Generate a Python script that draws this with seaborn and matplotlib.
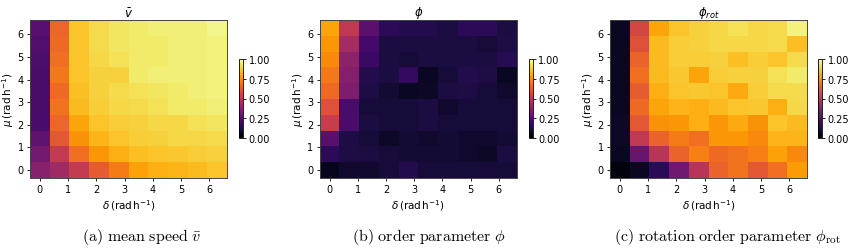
import numpy as np
import pandas as pd
import matplotlib
matplotlib.use("Agg")
import matplotlib.pyplot as plt
import seaborn as sns

# ----------------------------------------------------------
# Data (rows: mu from 2*pi at top down to 0, columns: delta 0 .. 2*pi)
# ----------------------------------------------------------

delta = np.linspace(0, 2 * np.pi, 10)
mu = np.linspace(0, 2 * np.pi, 10)[::-1]

mean_speed = [
    [0.25, 0.66, 0.86, 0.91, 0.93, 0.94, 0.95, 0.95, 0.95, 0.97],
    [0.24, 0.67, 0.86, 0.91, 0.93, 0.94, 0.94, 0.95, 0.95, 0.96],
    [0.23, 0.68, 0.86, 0.90, 0.92, 0.94, 0.94, 0.95, 0.95, 0.96],
    [0.22, 0.70, 0.86, 0.89, 0.89, 0.94, 0.95, 0.95, 0.95, 0.96],
    [0.22, 0.67, 0.85, 0.89, 0.91, 0.92, 0.93, 0.94, 0.95, 0.96],
    [0.22, 0.69, 0.84, 0.88, 0.90, 0.91, 0.92, 0.94, 0.94, 0.95],
    [0.22, 0.66, 0.80, 0.86, 0.88, 0.89, 0.90, 0.90, 0.92, 0.93],
    [0.27, 0.62, 0.76, 0.83, 0.86, 0.88, 0.89, 0.90, 0.90, 0.91],
    [0.32, 0.52, 0.68, 0.77, 0.82, 0.85, 0.86, 0.87, 0.88, 0.89],
    [0.37, 0.43, 0.52, 0.63, 0.71, 0.79, 0.82, 0.83, 0.84, 0.86],
]

order_param = [
    [0.80, 0.51, 0.26, 0.15, 0.13, 0.13, 0.11, 0.15, 0.15, 0.11],
    [0.77, 0.44, 0.21, 0.11, 0.11, 0.11, 0.11, 0.11, 0.10, 0.12],
    [0.74, 0.38, 0.18, 0.11, 0.10, 0.11, 0.11, 0.11, 0.11, 0.14],
    [0.70, 0.36, 0.13, 0.11, 0.17, 0.06, 0.10, 0.13, 0.12, 0.06],
    [0.67, 0.34, 0.12, 0.09, 0.06, 0.07, 0.11, 0.12, 0.10, 0.08],
    [0.60, 0.22, 0.10, 0.10, 0.10, 0.11, 0.08, 0.10, 0.10, 0.10],
    [0.53, 0.22, 0.11, 0.10, 0.10, 0.11, 0.10, 0.10, 0.10, 0.10],
    [0.25, 0.12, 0.10, 0.07, 0.09, 0.08, 0.09, 0.08, 0.08, 0.09],
    [0.15, 0.12, 0.11, 0.10, 0.09, 0.09, 0.09, 0.08, 0.07, 0.11],
    [0.05, 0.08, 0.08, 0.10, 0.13, 0.10, 0.10, 0.10, 0.10, 0.10],
]

rot_order_param = [
    [0.06, 0.57, 0.80, 0.86, 0.89, 0.90, 0.92, 0.90, 0.91, 0.96],
    [0.06, 0.60, 0.84, 0.88, 0.89, 0.90, 0.90, 0.90, 0.91, 0.85],
    [0.06, 0.65, 0.84, 0.88, 0.88, 0.89, 0.85, 0.88, 0.86, 0.91],
    [0.06, 0.68, 0.84, 0.87, 0.80, 0.88, 0.89, 0.89, 0.92, 0.94],
    [0.06, 0.63, 0.82, 0.86, 0.87, 0.86, 0.81, 0.88, 0.91, 0.91],
    [0.06, 0.67, 0.80, 0.83, 0.82, 0.84, 0.86, 0.87, 0.82, 0.90],
    [0.07, 0.62, 0.76, 0.77, 0.82, 0.77, 0.81, 0.76, 0.86, 0.84],
    [0.07, 0.51, 0.65, 0.71, 0.68, 0.77, 0.77, 0.74, 0.83, 0.83],
    [0.06, 0.29, 0.49, 0.65, 0.72, 0.67, 0.69, 0.72, 0.79, 0.74],
    [0.02, 0.06, 0.15, 0.31, 0.49, 0.65, 0.69, 0.62, 0.68, 0.78],
]

tick_values = [0, 1, 2, 3, 4, 5, 6]
titles = [r"$\bar{v}$", r"$\phi$", r"$\phi_{rot}$"]
captions = [
    r"$\mathrm{(a)\ mean\ speed\ }\bar{v}$",
    r"$\mathrm{(b)\ order\ parameter\ }\phi$",
    r"$\mathrm{(c)\ rotation\ order\ parameter\ }\phi_{\mathrm{rot}}$",
]

# ----------------------------------------------------------
# Figure layout
# ----------------------------------------------------------

W, H = 857, 251
fig = plt.figure(figsize=(W / 100, H / 100), dpi=100)

ax_left = [30, 319.7, 610]
cbar_left = [239, 528.5, 818]
caption_x = [142, 429, 727]

step = 2 * np.pi / 9

for i, data in enumerate([mean_speed, order_param, rot_order_param]):
    ax = fig.add_axes([ax_left[i] / W, 1 - 179 / H, 197 / W, 158 / H])
    cax = fig.add_axes([cbar_left[i] / W, 1 - 139 / H, 4 / W, 79 / H])

    df = pd.DataFrame(data, index=np.round(mu, 2), columns=np.round(delta, 2))

    sns.heatmap(
        df,
        ax=ax,
        cbar_ax=cax,
        cmap="inferno",
        vmin=0,
        vmax=1,
        cbar_kws={"ticks": [0, 0.25, 0.5, 0.75, 1.0], "format": "%.2f"},
    )

    # numeric ticks like an imshow extent
    ax.set_xticks([v / step + 0.5 for v in tick_values])
    ax.set_xticklabels(tick_values, rotation=0)
    ax.set_yticks([len(mu) - 0.5 - v / step for v in tick_values])
    ax.set_yticklabels(tick_values, rotation=0)
    ax.tick_params(labelsize=7, length=2.5, width=0.6, pad=2)

    for s in ax.spines.values():
        s.set_visible(True)
        s.set_linewidth(0.7)
        s.set_color("#444444")

    ax.set_xlabel(r"$\delta\,(\mathrm{rad\,h^{-1}})$", fontsize=7.5, labelpad=2)
    ax.set_ylabel(r"$\mu\,(\mathrm{rad\,h^{-1}})$", fontsize=7.5, labelpad=1)
    ax.set_title(titles[i], fontsize=8.5, pad=2)

    cb = ax.collections[0].colorbar
    cb.outline.set_visible(True)
    cb.outline.set_linewidth(0.6)
    cb.ax.tick_params(labelsize=7, length=2.5, width=0.6, pad=1.5)

    fig.text(caption_x[i] / W, 1 - 237 / H, captions[i], ha="center", va="center",
             fontsize=11.5, math_fontfamily="cm")

plt.savefig("out.png", dpi=100)
plt.close()
